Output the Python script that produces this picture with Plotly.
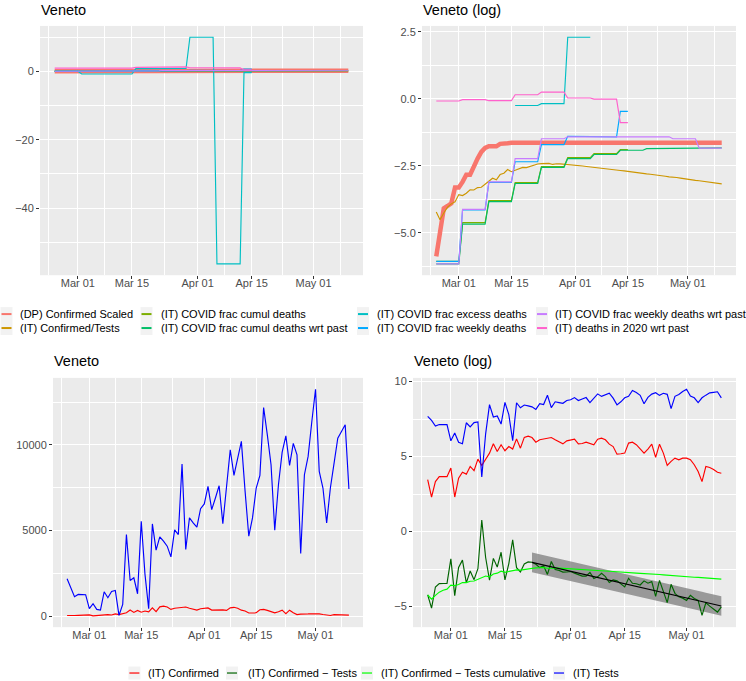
import numpy as np
import pandas as pd
import plotly.graph_objects as go

W, H = 746, 681
FONT = "Liberation Sans, Arial, Helvetica, sans-serif"

# ---------------- data ----------------
dates = pd.date_range("2020-02-24", "2020-05-10", freq="D")

# daily tests and daily confirmed cases (Veneto)
tests = [2180, 1650, 1130, 1260, 1245, 1245, 426, 718, 385, 350,
         1418, 1068, 1435, 1494, 38, 677, 4762, 2078, 2234, 1301,
         5542, 2450, 426, 5385, 3850, 4626, 4375, 4084, 3460, 5035,
         4762, 8885, 3886, 5735, 5443, 5192, 6278, 6552, 7584, 6219,
         6902, 7619, 5402, 7500, 9720, 8226, 9200, 10209, 7300, 4667,
         5735, 7485, 8226, 12193, 10595, 8845, 5017, 7678, 9585, 10536,
         8809, 10093, 9428, 3652, 8261, 9334, 11376, 13261, 8459, 7485,
         5443, 7485, 8943, 10402, 10793, 11178, 7427]
confirmed = [32, 10, 28, 39, 39, 39, 69, 10, 35, 52,
             46, 77, 58, 125, 82, 120, 187, 347, 209, 327,
             219, 290, 245, 483, 260, 534, 578, 528, 388, 455,
             483, 508, 528, 455, 408, 347, 424, 455, 474, 347,
             354, 388, 354, 327, 474, 508, 455, 340, 290, 174,
             179, 187, 365, 388, 327, 250, 187, 245, 340, 140,
             340, 187, 82, 108, 134, 120, 134, 134, 120, 86,
             55, 28, 77, 72, 63, 52, 49]

dp_confirmed_scaled = ([0.00279, 0.00674, 0.0167, 0.0183, 0.0202, 0.0365, 0.0365,
                        0.0450, 0.0590, 0.0590, 0.0837, 0.1075, 0.138, 0.160,
                        0.170, 0.170, 0.170, 0.186, 0.186, 0.190]
                       + [0.194] * 57)
frac_cumul_deaths = ([0.00231] * 7 + [0.00985] * 7 + [0.0224] * 7 + [0.0437] * 7
                     + [0.0797] * 7 + [0.111] * 7 + [0.129] * 7 + [0.150] * 3)
frac_cumul_deaths_past = ([0.00211] * 7 + [0.00928] * 7 + [0.0215] * 7 + [0.0424] * 7
                          + [0.0773] * 7 + [0.1075] * 7 + [0.125] * 7 + [0.1466] * 7
                          + [0.1557] * 7 + [0.160] * 7 + [0.160] * 7)
frac_excess_deaths = ([0.0] * 7 + [-0.8] * 14 + [0.78] * 7 + [0.835] * 7
                      + [9.95] * 7 + [-56.3] * 7 + [-0.4] * 3)
frac_weekly_deaths = ([0.00231] * 7 + [0.0158] * 7 + [0.0442] * 7 + [0.0954] * 7
                      + [0.181] * 7 + [0.247] * 7 + [0.242] * 7 + [0.625] * 3)
frac_weekly_deaths_past = ([0.00211] * 7 + [0.0161] * 7 + [0.045] * 7 + [0.1075] * 7
                           + [0.225] * 7 + [0.242] * 28 + [0.225] * 7 + [0.159] * 7)
deaths_2020_past = ([0.923] * 7 + [0.970] * 7 + [0.932] * 7 + [1.162] * 7
                    + [1.284] * 7 + [1.030] * 7 + [0.99] * 7 + [0.41] * 3)

top_names = ["(DP) Confirmed Scaled", "(IT) Confirmed/Tests",
             "(IT) COVID frac cumul deaths", "(IT) COVID frac cumul deaths wrt past",
             "(IT) COVID frac excess deaths", "(IT) COVID frac weekly deaths",
             "(IT) COVID frac weekly deaths wrt past", "(IT) deaths in 2020 wrt past"]
top_colors = ["#F8766D", "#CD9600", "#7CAE00", "#00BE67",
              "#00BFC4", "#00A9FF", "#C77CFF", "#FF61CC"]

bottom_names = ["(IT) Confirmed", "(IT) Confirmed \u2212 Tests",
                "(IT) Confirmed \u2212 Tests cumulative", "(IT) Tests"]
bottom_colors = ["#FF0000", "#006400", "#00FF00", "#0000FF"]

major_ticks = ["2020-03-01", "2020-03-15", "2020-04-01", "2020-04-15", "2020-05-01"]
major_labels = ["Mar 01", "Mar 15", "Apr 01", "Apr 15", "May 01"]
minor_ticks = ["2020-02-22 12:00", "2020-03-08", "2020-03-23 12:00",
               "2020-04-08", "2020-04-23", "2020-05-08"]

# ---------------- derived ----------------
tests_a = np.array(tests, float)
conf_a = np.array(confirmed, float)
cum_ratio = np.cumsum(conf_a) / np.cumsum(tests_a)
log_ratio = np.log(conf_a / tests_a)

top_series = [np.array(dp_confirmed_scaled), cum_ratio, np.array(frac_cumul_deaths),
              np.array(frac_cumul_deaths_past), np.array(frac_excess_deaths),
              np.array(frac_weekly_deaths), np.array(frac_weekly_deaths_past),
              np.array(deaths_2020_past)]


def safe_log(v):
    v = np.asarray(v, float)
    out = np.full(v.shape, np.nan)
    out[v > 0] = np.log(v[v > 0])
    return out


top_logs = [safe_log(s) for s in top_series]

# regression of log(confirmed/tests) from Mar 22 on, with prediction band
fit_start = 27
d = np.arange(len(dates))
xs = d[fit_start:]
ys = log_ratio[fit_start:]
b1, b0 = np.polyfit(xs, ys, 1)
yhat = b0 + b1 * xs
n = len(xs)
s = np.sqrt(np.sum((ys - yhat) ** 2) / (n - 2))
sxx = np.sum((xs - xs.mean()) ** 2)
se = s * np.sqrt(1 + 1 / n + (xs - xs.mean()) ** 2 / sxx)
tval = 2.01
upper = yhat + tval * se
lower = yhat - tval * se


def expand(vals, f=0.05):
    a = np.concatenate([np.asarray(v, float).ravel() for v in vals])
    a = a[np.isfinite(a)]
    lo, hi = a.min(), a.max()
    r = hi - lo
    return [lo - f * r, hi + f * r]


span = dates[-1] - dates[0]
xrange_ = [dates[0] - 0.05 * span, dates[-1] + 0.05 * span]

# ---------------- figure ----------------
fig = go.Figure()


def px_x(p):
    return p / W


def px_y(p):
    return 1 - p / H


panels = {
    "1": ((40, 363), (24, 274)),
    "2": ((422, 736), (24, 274)),
    "3": ((53, 363), (377, 627)),
    "4": ((413, 736), (377, 627)),
}

thin = 1.15

# top-left: linear
for i, (sv, c) in enumerate(zip(top_series, top_colors)):
    fig.add_trace(go.Scatter(x=dates[:len(sv)], y=sv, mode="lines",
                             line=dict(color=c, width=4.5 if i == 0 else thin),
                             xaxis="x", yaxis="y", showlegend=False, hoverinfo="skip"))
# top-right: log
for i, (sv, c) in enumerate(zip(top_logs, top_colors)):
    fig.add_trace(go.Scatter(x=dates[:len(sv)], y=sv, mode="lines",
                             line=dict(color=c, width=4.5 if i == 0 else thin),
                             xaxis="x2", yaxis="y2", showlegend=False, hoverinfo="skip"))
# bottom-left: linear
fig.add_trace(go.Scatter(x=dates, y=conf_a, mode="lines", line=dict(color=bottom_colors[0], width=thin),
                         xaxis="x3", yaxis="y3", showlegend=False, hoverinfo="skip"))
fig.add_trace(go.Scatter(x=dates, y=tests_a, mode="lines", line=dict(color=bottom_colors[3], width=thin),
                         xaxis="x3", yaxis="y3", showlegend=False, hoverinfo="skip"))
# bottom-right: log
fit_dates = dates[fit_start:]
fig.add_trace(go.Scatter(x=fit_dates, y=lower, mode="lines", line=dict(width=0, color="rgba(0,0,0,0)"),
                         xaxis="x4", yaxis="y4", showlegend=False, hoverinfo="skip"))
fig.add_trace(go.Scatter(x=fit_dates, y=upper, mode="lines", line=dict(width=0, color="rgba(0,0,0,0)"),
                         fill="tonexty", fillcolor="rgba(120,120,120,0.72)",
                         xaxis="x4", yaxis="y4", showlegend=False, hoverinfo="skip"))
br_series = [np.log(conf_a), log_ratio, np.log(cum_ratio), np.log(tests_a)]
for sv, c in zip(br_series, bottom_colors):
    fig.add_trace(go.Scatter(x=dates, y=sv, mode="lines", line=dict(color=c, width=thin),
                             xaxis="x4", yaxis="y4", showlegend=False, hoverinfo="skip"))
fig.add_trace(go.Scatter(x=fit_dates, y=yhat, mode="lines", line=dict(color="#000000", width=thin),
                         xaxis="x4", yaxis="y4", showlegend=False, hoverinfo="skip"))

# axes
tickfont = dict(family=FONT, size=11, color="#4D4D4D")


def xaxis_cfg(key):
    (x0, x1), (y0, y1) = panels[key]
    return dict(domain=[px_x(x0), px_x(x1)], anchor="y" if key == "1" else "y" + key,
                type="date", range=xrange_, tickmode="array", tickvals=major_ticks,
                ticktext=major_labels, showgrid=True, gridcolor="#FFFFFF", gridwidth=1.1,
                zeroline=False, showline=False, ticks="outside", ticklen=3, tickwidth=1,
                tickcolor="#333333", tickfont=tickfont, ticklabelstandoff=-5,
                minor=dict(tickmode="array", tickvals=minor_ticks, showgrid=True,
                           gridcolor="#FFFFFF", gridwidth=0.55, ticks=""),
                fixedrange=True)


def yaxis_cfg(key, rng, vals, texts, minors):
    (x0, x1), (y0, y1) = panels[key]
    return dict(domain=[px_y(y1), px_y(y0)], anchor="x" if key == "1" else "x" + key,
                range=rng, tickmode="array", tickvals=vals, ticktext=texts,
                showgrid=True, gridcolor="#FFFFFF", gridwidth=1.1, zeroline=False,
                showline=False, ticks="outside", ticklen=3, tickwidth=1, tickcolor="#333333",
                tickfont=tickfont,
                minor=dict(tickmode="array", tickvals=minors, showgrid=True,
                           gridcolor="#FFFFFF", gridwidth=0.55, ticks=""),
                fixedrange=True)


m = "\u2212"
fig.update_layout(
    xaxis=xaxis_cfg("1"), xaxis2=xaxis_cfg("2"), xaxis3=xaxis_cfg("3"), xaxis4=xaxis_cfg("4"),
    yaxis=yaxis_cfg("1", expand(top_series), [0, -20, -40], ["0", m + "20", m + "40"],
                    [10, -10, -30, -50]),
    yaxis2=yaxis_cfg("2", expand(top_logs), [2.5, 0, -2.5, -5], ["2.5", "0.0", m + "2.5", m + "5.0"],
                     [1.25, -1.25, -3.75, -6.25]),
    yaxis3=yaxis_cfg("3", expand([conf_a, tests_a]), [0, 5000, 10000], ["0", "5000", "10000"],
                     [2500, 7500, 12500]),
    yaxis4=yaxis_cfg("4", expand(br_series + [upper, lower]), [10, 5, 0, -5], ["10", "5", "0", m + "5"],
                     [7.5, 2.5, -2.5]),
)

annotations = []
shapes = []


def add_text(txt, x, y, size=11, color="#000000", xanchor="left"):
    annotations.append(dict(text=txt, x=px_x(x), y=px_y(y), xref="paper", yref="paper",
                            xanchor=xanchor, yanchor="middle", showarrow=False,
                            font=dict(family=FONT, size=size, color=color), borderpad=0))


# titles
add_text("Veneto", 40, 8, size=14.5)
add_text("Veneto (log)", 422, 8, size=14.5)
add_text("Veneto", 53, 360, size=14.5)
add_text("Veneto (log)", 413, 360, size=14.5)


def add_key(cx, cy, color, w=12, h=14, lw=2.0):
    shapes.append(dict(type="rect", xref="paper", yref="paper",
                       x0=px_x(cx - w / 2), x1=px_x(cx + w / 2),
                       y0=px_y(cy + h / 2), y1=px_y(cy - h / 2),
                       fillcolor="#F2F2F2", line=dict(width=0), layer="above"))
    shapes.append(dict(type="line", xref="paper", yref="paper",
                       x0=px_x(cx - w / 2 + 1), x1=px_x(cx + w / 2 - 1),
                       y0=px_y(cy), y1=px_y(cy), line=dict(color=color, width=lw), layer="above"))


# top legend (2 rows, filled by column)
col_key = [6.5, 146.5, 363, 542]
col_text = [19, 160, 376, 554]
row_y = [313, 327]
for i, (nm, c) in enumerate(zip(top_names, top_colors)):
    col, row = i // 2, i % 2
    add_key(col_key[col], row_y[row], c, w=12, h=14, lw=2.0)
    add_text(nm, col_text[col], row_y[row])

# bottom legend (single row)
bkey = [134.4, 232, 367, 559]
btext = [147, 246.6, 380.5, 572]
for nm, c, kx, tx in zip(bottom_names, bottom_colors, bkey, btext):
    add_key(kx, 673, c, w=12, h=13, lw=1.2)
    add_text(nm, tx, 673)

fig.update_layout(
    width=W, height=H, margin=dict(l=0, r=0, t=0, b=0),
    paper_bgcolor="#FFFFFF", plot_bgcolor="#EBEBEB",
    annotations=annotations, shapes=shapes, showlegend=False,
    font=dict(family=FONT, size=11, color="#000000"),
)

fig.write_html("out.html", config={"displayModeBar": False},
               post_script="document.body.style.margin='0';document.body.style.padding='0';"
                           "document.body.style.overflow='hidden';")
